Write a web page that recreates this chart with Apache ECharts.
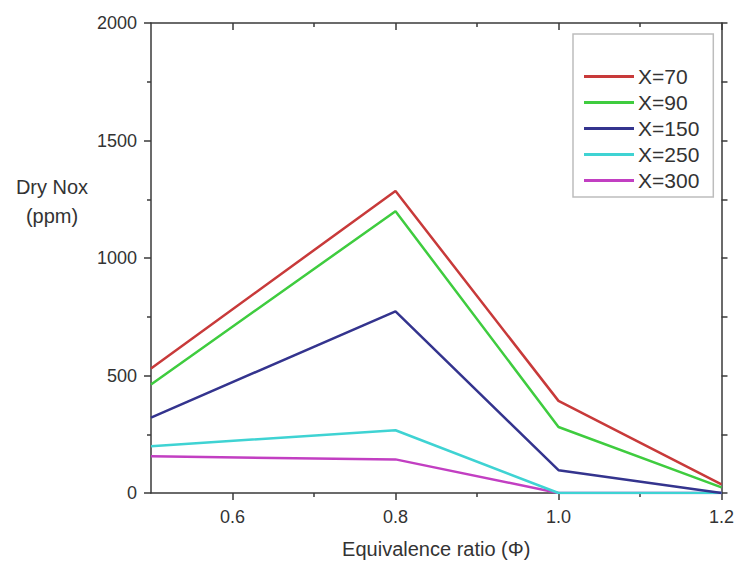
<!DOCTYPE html>
<html>
<head>
<meta charset="utf-8">
<script src="https://cdn.jsdelivr.net/npm/echarts@6/dist/echarts.min.js"></script>
<style>
  html, body { margin: 0; padding: 0; background: #fff; }
  #chart { width: 737px; height: 564px; }
</style>
</head>
<body>
<div id="chart"></div>
<script>
// Equivalence ratio values (x positions of the samples)
const phi = [0.5, 0.8, 1.0, 1.2];

// Dry NOx (ppm) for each X setting
const nox70 = [530, 1285, 392, 37];
const nox90 = [462, 1199, 281, 24];
const nox150 = [321, 773, 97, 0];
const nox250 = [199, 267, 0, 0];
const nox300 = [156, 143, 0, 0];

const seriesNames = ['X=70', 'X=90', 'X=150', 'X=250', 'X=300'];
const seriesColors = ['#c83a3a', '#3fcc3f', '#34348e', '#3fd3d3', '#c23fc2'];

// Tick positions on the Φ axis
const xMajorTicks = [0.6, 0.8, 1.0, 1.2];
const xMinorTicks = [0.7, 0.9, 1.1];
const yTickLabels = ['0', '500', '1000', '1500', '2000'];

const FONT = 'Arial, "Liberation Sans", sans-serif';
const AXIS_COLOR = '#3a3a3a';
const TEXT_COLOR = '#333';

const allValues = [nox70, nox90, nox150, nox250, nox300];

function pairs(vals) {
  return phi.map((p, i) => [p, vals[i]]);
}

const lineStyleAxis = { color: AXIS_COLOR, width: 1.5 };

function xAxisDef(position, tickValues, tickLen, inside, showLine, showLabels) {
  return {
    type: 'value',
    position: position,
    min: 0.5,
    max: 1.2,
    interval: 0.1,
    axisLine: { show: showLine, onZero: false, lineStyle: lineStyleAxis },
    axisTick: {
      show: true,
      customValues: tickValues,
      length: tickLen,
      inside: inside,
      lineStyle: lineStyleAxis
    },
    axisLabel: showLabels ? {
      show: true,
      customValues: xMajorTicks,
      formatter: v => v.toFixed(1),
      margin: 15,
      color: TEXT_COLOR,
      fontSize: 18,
      fontFamily: FONT
    } : { show: false },
    splitLine: { show: false }
  };
}

const option = {
  animation: false,
  backgroundColor: '#fff',
  grid: { left: 151, right: 14, top: 23, bottom: 71, containLabel: false },
  xAxis: [
    Object.assign(xAxisDef('bottom', xMajorTicks, 7, false, true, true), {
      name: 'Equivalence ratio (Φ)',
      nameLocation: 'middle',
      nameGap: 46,
      nameTextStyle: { color: TEXT_COLOR, fontSize: 20, fontFamily: FONT }
    }),
    xAxisDef('bottom', xMinorTicks, 4, false, false, false),
    xAxisDef('top', xMajorTicks, 7, true, true, false),
    xAxisDef('top', xMinorTicks, 4, true, false, false)
  ],
  yAxis: [
    {
      type: 'value',
      position: 'left',
      min: 0,
      max: 2000,
      interval: 500,
      axisLine: { show: true, lineStyle: lineStyleAxis },
      axisTick: { show: true, length: 7, lineStyle: lineStyleAxis },
      minorTick: { show: true, splitNumber: 2, length: 4, lineStyle: lineStyleAxis },
      axisLabel: {
        margin: 14,
        color: TEXT_COLOR,
        fontSize: 18,
        fontFamily: FONT,
        formatter: v => yTickLabels[Math.round(v / 500)]
      },
      splitLine: { show: false }
    },
    {
      type: 'value',
      position: 'right',
      min: 0,
      max: 2000,
      interval: 500,
      axisLine: { show: true, lineStyle: lineStyleAxis },
      axisTick: { show: true, length: 6, lineStyle: lineStyleAxis },
      minorTick: { show: true, splitNumber: 2, length: 6, lineStyle: lineStyleAxis },
      axisLabel: { show: false },
      splitLine: { show: false }
    }
  ],
  legend: {
    orient: 'vertical',
    left: 573,
    top: 34,
    padding: [32, 14, 6, 11],
    itemGap: 5,
    itemWidth: 50,
    itemHeight: 3,
    icon: 'rect',
    borderColor: '#bdbdbd',
    borderWidth: 1.5,
    textStyle: { color: TEXT_COLOR, fontSize: 21, fontFamily: FONT, padding: [0, 0, 0, -1] },
    data: seriesNames
  },
  graphic: [
    {
      type: 'text',
      x: 52,
      y: 172,
      style: {
        text: 'Dry Nox\n(ppm)',
        fill: TEXT_COLOR,
        font: '20px ' + FONT,
        align: 'center',
        verticalAlign: 'top',
        lineHeight: 29
      }
    }
  ],
  series: allValues.map((vals, i) => ({
    name: seriesNames[i],
    type: 'line',
    xAxisIndex: 0,
    yAxisIndex: 0,
    data: pairs(vals),
    showSymbol: false,
    symbol: 'none',
    color: seriesColors[i],
    lineStyle: { width: 2.5, color: seriesColors[i] },
    z: 5 - i
  }))
};

const chart = echarts.init(document.getElementById('chart'), null, { renderer: 'svg' });
chart.setOption(option);
</script>
</body>
</html>
